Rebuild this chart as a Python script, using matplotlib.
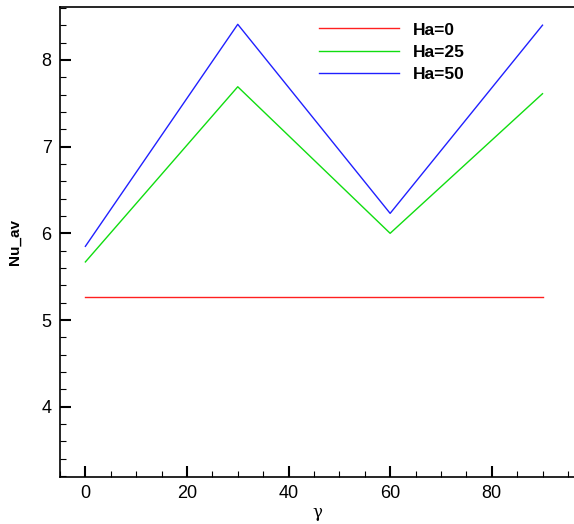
import matplotlib

matplotlib.use("Agg")
import matplotlib.pyplot as plt
from matplotlib.ticker import MultipleLocator

plt.rcParams["font.family"] = ["Liberation Sans", "DejaVu Sans"]

gamma = [0, 30, 60, 90]
nu_ha0 = [5.26, 5.26, 5.26, 5.26]
nu_ha25 = [5.67, 7.69, 6.0, 7.61]
nu_ha50 = [5.85, 8.41, 6.23, 8.40]
labels = ["Ha=0", "Ha=25", "Ha=50"]
colors = ["#ff2020", "#10dd10", "#2020ff"]

fig = plt.figure(figsize=(5.74, 5.24), dpi=100)
ax = fig.add_axes([0.1045, 0.0897, 0.8955, 0.897])

for values, label, color in zip([nu_ha0, nu_ha25, nu_ha50], labels, colors):
    ax.plot(gamma, values, color=color, linewidth=1.0, label=label)

ax.set_xlim(-5, 96.2)
ax.set_ylim(3.19, 8.61)
ax.xaxis.set_major_locator(MultipleLocator(20))
ax.xaxis.set_minor_locator(MultipleLocator(5))
ax.yaxis.set_major_locator(MultipleLocator(1))
ax.yaxis.set_minor_locator(MultipleLocator(0.2))
ax.tick_params(which="major", direction="in", length=8, width=1.5, labelsize=13, pad=6)
ax.tick_params(which="minor", direction="in", length=4.5, width=0.8)
ax.spines["right"].set_visible(False)
for side in ["left", "bottom", "top"]:
    ax.spines[side].set_linewidth(1.2)

ax.set_ylabel("Nu_av", fontsize=11, fontweight="bold", labelpad=14)
ax.set_xlabel("γ", fontsize=12, family=["DejaVu Serif"], labelpad=1)

ax.legend(
    loc="upper left",
    bbox_to_anchor=(0.49, 0.982),
    frameon=False,
    prop={"weight": "bold", "size": 12.5},
    handlelength=4.6,
    handletextpad=0.8,
    labelspacing=0.42,
    borderaxespad=0,
)

fig.savefig("out.png", dpi=100)
